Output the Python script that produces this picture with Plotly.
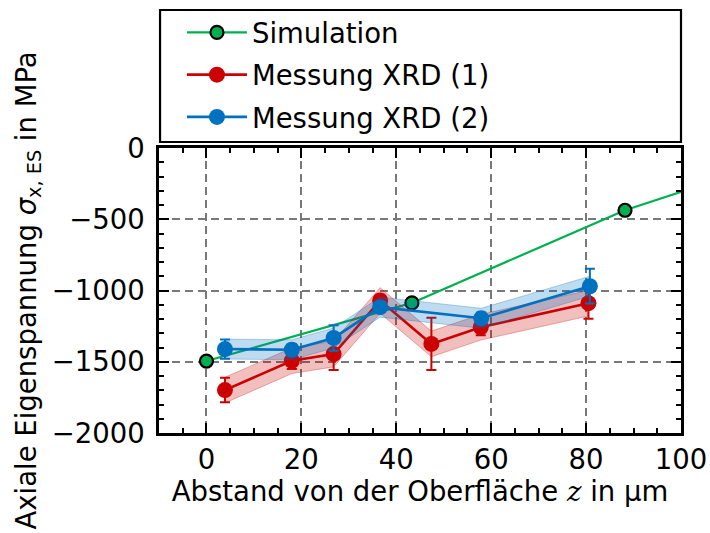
import plotly.graph_objects as go

# ---- data ----
sim_z = [0, 43.3, 88.2, 132]
sim_s = [-1495, -1087, -437, 40]

xrd1_z = [3.9, 18.0, 26.8, 36.6, 47.4, 57.8, 80.5]
xrd1_s = [-1699, -1493, -1446, -1070, -1375, -1258, -1089]
xrd1_err = [86, 58, 112, 40, 183, 56, 110]
xrd1_band = [90, 90, 90, 90, 90, 90, 90]

xrd2_z = [3.9, 18.0, 26.8, 36.6, 57.9, 80.8]
xrd2_s = [-1411, -1416, -1333, -1117, -1195, -970]
xrd2_err = [68, 40, 90, 35, 40, 122]
xrd2_band = [70, 70, 70, 70, 70, 70]

GREEN = "#00B050"
RED = "#CC0000"
BLUE = "#0070C0"
FONT = "DejaVu Sans"
FS = 27.5

fig = go.Figure()


def band(x, y, w, rgb):
    up = [a + b for a, b in zip(y, w)]
    lo = [a - b for a, b in zip(y, w)]
    return go.Scatter(
        x=list(x) + list(x)[::-1], y=up + lo[::-1], fill="toself",
        fillcolor=f"rgba({rgb},0.25)", line=dict(color=f"rgba({rgb},0.3)", width=1),
        mode="lines", showlegend=False, hoverinfo="skip")


fig.add_trace(go.Scatter(
    x=sim_z, y=sim_s, mode="lines+markers", name="Simulation",
    line=dict(color=GREEN, width=2.2),
    marker=dict(color=GREEN, size=13, line=dict(color="black", width=2.2)),
    legendgroup="a", legendrank=1))

fig.add_trace(band(xrd1_z, xrd1_s, xrd1_band, "204,0,0"))
fig.add_trace(go.Scatter(
    x=xrd1_z, y=xrd1_s, mode="lines+markers", name="Messung XRD (1)",
    line=dict(color=RED, width=2.6),
    marker=dict(color=RED, size=16),
    error_y=dict(type="data", array=xrd1_err, color=RED, thickness=2, width=5),
    legendgroup="b", legendrank=2))

fig.add_trace(band(xrd2_z, xrd2_s, xrd2_band, "0,112,192"))
fig.add_trace(go.Scatter(
    x=xrd2_z, y=xrd2_s, mode="lines+markers", name="Messung XRD (2)",
    line=dict(color=BLUE, width=2.6),
    marker=dict(color=BLUE, size=16),
    error_y=dict(type="data", array=xrd2_err, color=BLUE, thickness=2, width=5),
    legendgroup="c", legendrank=3))

axis_common = dict(
    showline=True, linecolor="black", linewidth=2.5, mirror="allticks",
    ticks="inside", ticklen=10, tickwidth=2.2, tickcolor="black",
    showgrid=True, gridcolor="#787878", gridwidth=1.8, griddash="8px,5px",
    zeroline=False, automargin=False,
    tickfont=dict(family=FONT, size=FS, color="black"),
)

fig.update_xaxes(
    range=[-10, 100], tick0=0, dtick=20,
    minor=dict(ticks="inside", ticklen=5, tickwidth=1.6, tickcolor="black", dtick=5, showgrid=False),
    title=dict(text="Abstand von der Oberfläche <span style=\"font-family:DejaVu Serif\"><i>z</i></span> in µm",
               font=dict(family=FONT, size=FS, color="black"), standoff=6),
    **axis_common)
fig.update_yaxes(
    range=[-2000, 0], tick0=0, dtick=500,
    minor=dict(ticks="inside", ticklen=5, tickwidth=1.6, tickcolor="black", dtick=100, showgrid=False),
    title=dict(text="Axiale Eigenspannung <i>σ</i><sub>x, ES</sub> in MPa",
               font=dict(family=FONT, size=FS, color="black"), standoff=8),
    ticklabelstandoff=6,
    **axis_common)

# legend frame
fig.add_shape(type="rect", xref="paper", yref="paper", x0=0.002, x1=1.0,
              y0=(433 - 142) / 285, y1=(433 - 10) / 285,
              line=dict(color="black", width=2.2), fillcolor="rgba(0,0,0,0)")

fig.update_layout(
    width=710, height=533,
    margin=dict(l=159, r=29, t=148, b=100, autoexpand=False),
    paper_bgcolor="white", plot_bgcolor="white",
    showlegend=True,
    legend=dict(x=0.044, y=(433 - 8) / 285, xanchor="left", yanchor="top",
                bgcolor="rgba(0,0,0,0)", borderwidth=0, tracegroupgap=3.5,
                font=dict(family=FONT, size=FS, color="black"), itemwidth=60),
)

fig.write_html("out.html")
